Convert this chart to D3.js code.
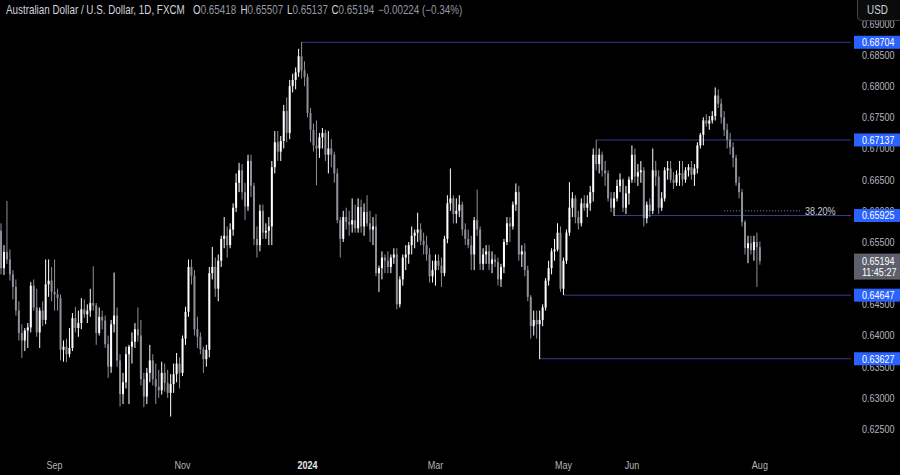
<!DOCTYPE html>
<html><head><meta charset="utf-8">
<script src="https://cdn.jsdelivr.net/npm/d3@7"></script>
<style>html,body{margin:0;padding:0;background:#000;overflow:hidden}</style>
</head><body>
<svg id="c" width="900" height="475"></svg>
<script>
// ---------- DATA ----------
const startDate = "2023-08-08", endDate = "2024-08-01";
const holidays = ["2023-12-25", "2024-01-01"];

const opens = [
0.6568,0.6508,0.6534,0.6522,0.6498,0.6478,0.6440,0.6404,0.6392,0.6408,0.6413,0.6480,0.6445,0.6405,0.6440,0.6425,0.6482,0.6488,
0.6470,0.6466,0.6460,0.6377,0.6382,0.6370,0.6380,0.6428,0.6412,0.6420,0.6442,0.6434,0.6440,0.6452,0.6448,0.6404,0.6430,0.6424,0.6386,0.6350,0.6418,
0.6432,0.6360,0.6306,0.6325,0.6370,0.6382,0.6390,0.6410,0.6400,0.6330,0.6302,0.6340,0.6360,0.6330,0.6318,0.6312,0.6340,0.6324,0.6308,0.6322,0.6338,0.6355,
0.6340,0.6395,0.6438,0.6510,0.6496,0.6410,0.6398,0.6378,0.6362,0.6377,0.6500,0.6510,0.6475,0.6520,0.6555,0.6560,0.6545,0.6570,0.6605,0.6645,0.6665,0.6630,
0.6607,0.6680,0.6640,0.6555,0.6545,0.6600,0.6565,0.6568,0.6575,0.6670,0.6710,0.6695,0.6712,0.6760,0.6725,0.6800,0.6810,0.6822,0.6848,0.6825,
0.6815,0.6757,0.6730,0.6705,0.6700,0.6718,0.6725,0.6690,0.6700,0.6690,0.6660,0.6585,0.6555,0.6590,0.6582,0.6578,0.6585,0.6572,0.6606,0.6575,0.6598,0.6580,
0.6570,0.6575,0.6500,0.6508,0.6525,0.6520,0.6510,0.6525,0.6530,0.6450,0.6490,0.6525,0.6530,0.6545,0.6560,0.6565,0.6570,0.6552,0.6545,0.6530,0.6495,
0.6505,0.6520,0.6512,0.6500,0.6555,0.6612,0.6620,0.6595,0.6600,0.6610,0.6570,0.6555,0.6545,0.6530,0.6585,0.6570,0.6515,0.6530,0.6535,0.6515,0.6522,
0.6518,0.6490,0.6510,0.6550,0.6580,0.6575,0.6610,0.6630,0.6530,0.6535,0.6505,0.6462,0.6415,0.6425,0.6418,0.6425,0.6445,0.6488,0.6508,0.6535,0.6538,0.6565,
0.6475,0.6520,0.6565,0.6605,0.6620,0.6590,0.6580,0.6612,0.6605,0.6612,0.6630,0.6690,0.6675,0.6690,0.6665,0.6660,0.6620,0.6605,0.6620,0.6640,0.6650,0.6605,0.6628,
0.6650,0.6690,0.6655,0.6662,0.6665,0.6588,0.6610,0.6600,0.6665,0.6655,0.6605,0.6620,0.6665,0.6668,0.6650,0.6645,0.6658,0.6660,0.6650,0.6665,
0.6670,0.6658,0.6668,0.6705,0.6722,0.6745,0.6740,0.6745,0.6752,0.6785,0.6772,0.6750,0.6730,0.6714,0.6702,0.6685,0.6645,0.6630,0.6582,0.6540,0.6548,0.6537,0.6550,
0.65418];

const highs = [
0.6580,0.6545,0.6616,0.6538,0.6505,0.6490,0.6455,0.6418,0.6412,0.6420,0.6486,0.6490,0.6475,0.6445,0.6455,0.6522,0.6522,0.6510,
0.6522,0.6475,0.6466,0.6392,0.6395,0.6412,0.6436,0.6446,0.6440,0.6460,0.6458,0.6450,0.6475,0.6511,0.6452,0.6445,0.6440,0.6432,0.6400,0.6425,0.6501,
0.6445,0.6370,0.6340,0.6382,0.6385,0.6405,0.6420,0.6445,0.6425,0.6340,0.6348,0.6385,0.6370,0.6355,0.6345,0.6358,0.6355,0.6345,0.6338,0.6355,0.6372,0.6365,
0.6400,0.6446,0.6522,0.6522,0.6505,0.6430,0.6405,0.6382,0.6385,0.6510,0.6542,0.6525,0.6530,0.6560,0.6590,0.6575,0.6580,0.6612,0.6660,0.6677,0.6675,0.6645,
0.6690,0.6690,0.6645,0.6575,0.6610,0.6610,0.6580,0.6590,0.6680,0.6728,0.6728,0.6720,0.6770,0.6782,0.6810,0.6820,0.6830,0.6860,0.6871,0.6840,
0.6820,0.6765,0.6740,0.6745,0.6725,0.6733,0.6730,0.6728,0.6715,0.6695,0.6668,0.6590,0.6600,0.6605,0.6600,0.6620,0.6610,0.6620,0.6618,0.6612,0.6625,0.6600,
0.6590,0.6595,0.6512,0.6535,0.6530,0.6535,0.6530,0.6540,0.6540,0.6495,0.6530,0.6545,0.6550,0.6575,0.6570,0.6597,0.6580,0.6565,0.6560,0.6540,0.6520,
0.6530,0.6530,0.6525,0.6560,0.6625,0.6668,0.6625,0.6620,0.6625,0.6615,0.6580,0.6570,0.6560,0.6590,0.6634,0.6575,0.6540,0.6545,0.6545,0.6535,0.6530,
0.6525,0.6515,0.6555,0.6590,0.6590,0.6615,0.6644,0.6640,0.6545,0.6548,0.6512,0.6465,0.6440,0.6440,0.6440,0.6450,0.6492,0.6520,0.6540,0.6555,0.6580,0.6575,
0.6525,0.6570,0.6646,0.6630,0.6625,0.6600,0.6620,0.6625,0.6625,0.6640,0.6700,0.6714,0.6700,0.6695,0.6680,0.6665,0.6630,0.6630,0.6650,0.6660,0.6652,0.6640,0.6655,
0.6705,0.6700,0.6675,0.6680,0.6670,0.6615,0.6620,0.6700,0.6680,0.6665,0.6630,0.6670,0.6680,0.6680,0.6662,0.6665,0.6680,0.6680,0.6670,0.6675,
0.6680,0.6675,0.6710,0.6725,0.6750,0.6755,0.6752,0.6760,0.6798,0.6795,0.6780,0.6760,0.6740,0.6725,0.6710,0.6690,0.6655,0.6635,0.6585,0.6560,0.6560,0.6560,0.6565,
0.65507];

const lows = [
0.6498,0.6497,0.6515,0.6488,0.6458,0.6432,0.6392,0.6364,0.6375,0.6380,0.6405,0.6440,0.6398,0.6380,0.6415,0.6418,0.6462,0.6455,
0.6440,0.6440,0.6360,0.6358,0.6357,0.6365,0.6375,0.6405,0.6398,0.6410,0.6428,0.6420,0.6430,0.6440,0.6385,0.6400,0.6410,0.6380,0.6332,0.6340,0.6405,
0.6350,0.6286,0.6290,0.6315,0.6290,0.6355,0.6380,0.6390,0.6320,0.6285,0.6290,0.6325,0.6320,0.6290,0.6300,0.6305,0.6310,0.6300,0.6270,0.6308,0.6325,0.6315,
0.6335,0.6385,0.6430,0.6482,0.6400,0.6380,0.6370,0.6340,0.6350,0.6365,0.6490,0.6462,0.6455,0.6510,0.6540,0.6525,0.6540,0.6560,0.6598,0.6630,0.6618,0.6585,
0.6600,0.6622,0.6545,0.6525,0.6535,0.6555,0.6555,0.6545,0.6545,0.6660,0.6680,0.6680,0.6700,0.6710,0.6715,0.6790,0.6795,0.6815,0.6812,0.6800,
0.6750,0.6710,0.6695,0.6641,0.6685,0.6700,0.6680,0.6660,0.6670,0.6645,0.6580,0.6525,0.6550,0.6570,0.6560,0.6565,0.6565,0.6565,0.6565,0.6560,0.6575,0.6550,
0.6545,0.6495,0.6470,0.6490,0.6500,0.6500,0.6500,0.6515,0.6442,0.6445,0.6480,0.6505,0.6515,0.6530,0.6540,0.6550,0.6545,0.6530,0.6520,0.6485,0.6485,
0.6480,0.6505,0.6478,0.6495,0.6548,0.6600,0.6580,0.6580,0.6590,0.6560,0.6545,0.6540,0.6505,0.6505,0.6560,0.6505,0.6505,0.6515,0.6505,0.6500,0.6510,
0.6480,0.6478,0.6500,0.6545,0.6550,0.6570,0.6600,0.6520,0.6510,0.6495,0.6455,0.6395,0.6400,0.6395,0.6362,0.6415,0.6440,0.6480,0.6498,0.6520,0.6535,0.6470,
0.6465,0.6515,0.6560,0.6590,0.6580,0.6570,0.6575,0.6600,0.6590,0.6600,0.6615,0.6665,0.6660,0.6655,0.6640,0.6615,0.6598,0.6592,0.6615,0.6630,0.6598,0.6595,0.6610,
0.6645,0.6645,0.6640,0.6645,0.6575,0.6580,0.6590,0.6595,0.6640,0.6595,0.6600,0.6615,0.6650,0.6645,0.6635,0.6640,0.6640,0.6640,0.6645,0.6655,
0.6650,0.6640,0.6660,0.6700,0.6705,0.6735,0.6730,0.6740,0.6745,0.6765,0.6740,0.6720,0.6700,0.6690,0.6670,0.6640,0.6620,0.6575,0.6530,0.6516,0.6530,0.6520,0.6478,
0.65137];

const closes = [
0.6508,0.6534,0.6522,0.6498,0.6478,0.6440,0.6404,0.6392,0.6408,0.6413,0.6480,0.6445,0.6405,0.6440,0.6425,0.6482,0.6488,0.6470,
0.6466,0.6460,0.6377,0.6382,0.6370,0.6380,0.6428,0.6412,0.6420,0.6442,0.6434,0.6440,0.6452,0.6448,0.6404,0.6430,0.6424,0.6386,0.6350,0.6418,0.6432,
0.6360,0.6306,0.6325,0.6370,0.6382,0.6390,0.6410,0.6400,0.6330,0.6302,0.6340,0.6360,0.6330,0.6318,0.6312,0.6340,0.6324,0.6308,0.6322,0.6338,0.6355,0.6340,
0.6395,0.6438,0.6510,0.6496,0.6410,0.6398,0.6378,0.6362,0.6377,0.6500,0.6510,0.6475,0.6520,0.6555,0.6560,0.6545,0.6570,0.6605,0.6645,0.6665,0.6630,0.6607,
0.6680,0.6640,0.6555,0.6545,0.6600,0.6565,0.6568,0.6575,0.6670,0.6710,0.6695,0.6712,0.6760,0.6725,0.6800,0.6810,0.6822,0.6848,0.6825,0.6815,
0.6757,0.6730,0.6705,0.6700,0.6718,0.6725,0.6690,0.6700,0.6690,0.6660,0.6585,0.6555,0.6590,0.6582,0.6578,0.6585,0.6572,0.6606,0.6575,0.6598,0.6580,0.6570,
0.6575,0.6500,0.6508,0.6525,0.6520,0.6510,0.6525,0.6530,0.6450,0.6490,0.6525,0.6530,0.6545,0.6560,0.6565,0.6570,0.6552,0.6545,0.6530,0.6495,0.6505,
0.6520,0.6512,0.6500,0.6555,0.6612,0.6620,0.6595,0.6600,0.6610,0.6570,0.6555,0.6545,0.6530,0.6585,0.6570,0.6515,0.6530,0.6535,0.6515,0.6522,0.6518,
0.6490,0.6510,0.6550,0.6580,0.6575,0.6610,0.6630,0.6530,0.6535,0.6505,0.6462,0.6415,0.6425,0.6418,0.6425,0.6445,0.6488,0.6508,0.6535,0.6538,0.6565,0.6475,
0.6520,0.6565,0.6605,0.6620,0.6590,0.6580,0.6612,0.6605,0.6612,0.6630,0.6690,0.6675,0.6690,0.6665,0.6660,0.6620,0.6605,0.6620,0.6640,0.6650,0.6605,0.6628,0.6650,
0.6690,0.6655,0.6662,0.6665,0.6588,0.6610,0.6600,0.6665,0.6655,0.6605,0.6620,0.6665,0.6668,0.6650,0.6645,0.6658,0.6660,0.6650,0.6665,0.6670,
0.6658,0.6668,0.6705,0.6722,0.6745,0.6740,0.6745,0.6752,0.6785,0.6772,0.6750,0.6730,0.6714,0.6702,0.6685,0.6645,0.6630,0.6582,0.6540,0.6548,0.6537,0.6550,0.65418,
0.65194];

const tickDates  = ["2023-09-01","2023-11-01","2024-01-02","2024-03-01","2024-05-01","2024-06-03","2024-08-01"];
const tickLabels = ["Sep","Nov","2024","Mar","May","Jun","Aug"];
const priceTicks = [0.690,0.685,0.680,0.675,0.670,0.665,0.660,0.655,0.650,0.645,0.640,0.635,0.630,0.625];
const levelPrices = [0.68704,0.67137,0.65925,0.64647,0.63627];
const levelStarts = ["2023-12-28","2024-05-16","2024-05-24","2024-05-01","2024-04-19"];
const fibPrice = 0.6600, fibStart = "2024-07-16", fibLabel = "38.20%";
const countdown = "11:45:27";
const header = {title:"Australian Dollar / U.S. Dollar, 1D, FXCM", O:"0.65418", H:"0.65507", L:"0.65137", C:"0.65194", chg:"\u22120.00224 (\u22120.34%)"};

// ---------- CHART ----------
const FONT = "'Liberation Sans', Arial, sans-serif";
const SX = 0.82; // horizontal squeeze to mimic the narrow UI font
const svg = d3.select("#c").attr("font-family", FONT);
svg.append("rect").attr("width",900).attr("height",475).attr("fill","#000");

function txt(parent, px, py, s, size, fill, opts = {}) {
  const g = parent.append("g").attr("transform", `translate(${px},${py}) scale(${SX},1)`);
  const t = g.append("text").attr("x",0).attr("y",0).attr("font-size",size).attr("fill",fill)
    .attr("text-anchor", opts.anchor || "start").attr("dy", opts.dy || null)
    .attr("font-weight", opts.weight || null).text(s);
  return t;
}

const fmt = d3.utcFormat("%Y-%m-%d");
const dates = d3.utcDays(new Date(startDate+"T00:00:00Z"), d3.utcDay.offset(new Date(endDate+"T00:00:00Z"),1))
  .filter(d => d.getUTCDay()!==0 && d.getUTCDay()!==6 && !holidays.includes(fmt(d)))
  .map(fmt);
const n = Math.min(dates.length, closes.length);
const keys = dates.slice(0,n);

const step = 2.976;
const x = d3.scalePoint().domain(keys).range([1, 1 + (n-1)*step]);
const y = d3.scaleLinear().domain([0.625, 0.685]).range([429, 55]);

const PLOT_R = 851, PLOT_B = 447;
const defs = svg.append("defs");
defs.append("clipPath").attr("id","plot").append("rect").attr("x",0).attr("y",0).attr("width",PLOT_R).attr("height",PLOT_B);
defs.append("clipPath").attr("id","axis").append("rect").attr("x",PLOT_R).attr("y",21).attr("width",900-PLOT_R).attr("height",PLOT_B-21);

const plot = svg.append("g").attr("clip-path","url(#plot)");

// level lines
levelPrices.forEach((p,k) => {
  plot.append("line").attr("x1", x(levelStarts[k])).attr("x2", PLOT_R)
    .attr("y1", y(p)).attr("y2", y(p)).attr("stroke","#323d8c").attr("stroke-width",1);
});
// fib dotted line
plot.append("line").attr("x1", x(fibStart)).attr("x2", 800).attr("y1", y(fibPrice)).attr("y2", y(fibPrice))
  .attr("stroke","#8a8d96").attr("stroke-width",1).attr("stroke-dasharray","1,2");
txt(plot, 805, y(fibPrice), fibLabel, 11, "#c8cad0", {dy:"0.35em"});

// candles
const candles = keys.map((k,i) => ({k, o:opens[i], h:highs[i], l:lows[i], c:closes[i]}));
const UP = "#ffffff", DOWN = "#8e9099";
const cg = plot.append("g");
cg.selectAll("rect.w").data(candles).join("rect").attr("class","w")
  .attr("x", d => x(d.k)-0.5).attr("width",1)
  .attr("y", d => y(d.h)).attr("height", d => Math.max(1, y(d.l)-y(d.h)))
  .attr("fill", d => d.c>=d.o ? UP : DOWN);
cg.selectAll("rect.b").data(candles).join("rect").attr("class","b")
  .attr("x", d => x(d.k)-1).attr("width",2)
  .attr("y", d => y(Math.max(d.o,d.c))).attr("height", d => Math.max(1, Math.abs(y(d.o)-y(d.c))))
  .attr("fill", d => d.c>=d.o ? UP : DOWN);

// right price axis
const ax = svg.append("g").attr("clip-path","url(#axis)");
priceTicks.forEach(p => txt(ax, 862, y(p), p.toFixed(5), 11, "#b2b5be", {dy:"0.35em"}));

// level labels
levelPrices.forEach(p => {
  svg.append("rect").attr("x",854).attr("y", y(p)-6.5).attr("width",46).attr("height",13).attr("fill","#2962ff");
  txt(svg, 862, y(p), p.toFixed(5), 11, "#ffffff", {dy:"0.35em"});
});

// last price label
const last = closes[n-1];
svg.append("rect").attr("x",854).attr("y", y(last)-7.5).attr("width",46).attr("height",26).attr("fill","#5d606b");
txt(svg, 862, y(last), last.toFixed(5), 11, "#ffffff", {dy:"0.35em"});
txt(svg, 862, y(last)+11.5, countdown, 11, "#ffffff", {dy:"0.35em"});

// USD box
svg.append("rect").attr("x",857.5).attr("y",-5).attr("width",50).attr("height",25.5).attr("rx",4)
  .attr("fill","#0b0b0d").attr("stroke","#434651");
txt(svg, 877.5, 14, "USD", 12, "#d1d4dc", {anchor:"middle"});

// time axis
tickDates.forEach((d,i) => {
  const is24 = tickLabels[i] === "2024";
  txt(svg, x(d), 469, tickLabels[i], 11, is24 ? "#e6e7ea" : "#b2b5be", {anchor:"middle", weight: is24 ? "bold" : null});
});

// header
const hy = 14, hcol = "#d1d4dc", vcol = "#9598a1";
txt(svg, 6, hy, header.title, 12, hcol);
[["O",193,header.O],["H",240.5,header.H],["L",287,header.L],["C",331.5,header.C]].forEach(([lab,px,val]) => {
  const t = txt(svg, px, hy, "", 12, hcol);
  t.append("tspan").attr("fill",hcol).text(lab);
  t.append("tspan").attr("fill",vcol).text(val);
});
txt(svg, 378, hy, header.chg, 12, vcol);
</script>
</body></html>
